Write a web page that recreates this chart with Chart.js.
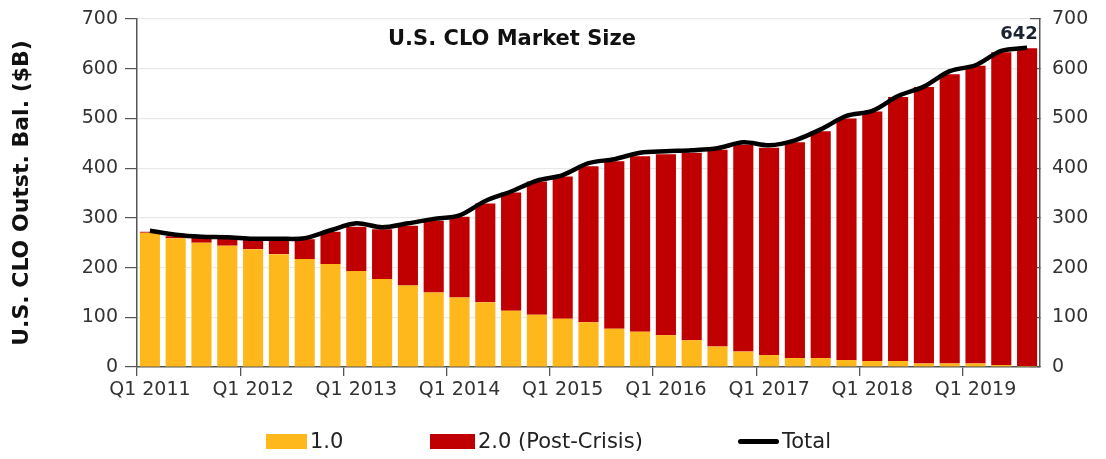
<!DOCTYPE html>
<html>
<head>
<meta charset="utf-8">
<script src="https://cdn.jsdelivr.net/npm/chart.js@4.4.1/dist/chart.umd.min.js"></script>
<style>
  html, body { margin: 0; padding: 0; background: #ffffff; }
  #wrap { position: relative; width: 1106px; height: 459px; overflow: hidden; }
  #c { position: absolute; left: 0; top: 0; }
  #legend { position: absolute; left: 0; top: 428px; width: 1106px; height: 26px;
            font-family: 'DejaVu Sans', Verdana, sans-serif; font-size: 21px; color: #222; }
  .item { position: absolute; top: 0; height: 26px; display: flex; align-items: center; white-space: nowrap; }
  .sw { display: inline-block; margin-right: 3px; }
</style>
</head>
<body>
<div id="wrap">
  <canvas id="c" width="1106" height="459"></canvas>
  <div id="legend"></div>
</div>
<script>
// ---- data (US$ billions) ----
const categories = [
  'Q1 2011','Q2 2011','Q3 2011','Q4 2011',
  'Q1 2012','Q2 2012','Q3 2012','Q4 2012',
  'Q1 2013','Q2 2013','Q3 2013','Q4 2013',
  'Q1 2014','Q2 2014','Q3 2014','Q4 2014',
  'Q1 2015','Q2 2015','Q3 2015','Q4 2015',
  'Q1 2016','Q2 2016','Q3 2016','Q4 2016',
  'Q1 2017','Q2 2017','Q3 2017','Q4 2017',
  'Q1 2018','Q2 2018','Q3 2018','Q4 2018',
  'Q1 2019','Q2 2019','Q3 2019'
];
const xTickLabels = ['Q1 2011','Q1 2012','Q1 2013','Q1 2014','Q1 2015','Q1 2016','Q1 2017','Q1 2018','Q1 2019'];
const yTicks = [0, 100, 200, 300, 400, 500, 600, 700];

const clo10 = [270,259,250,244,237,227,217,207,193,177,164,150,140,130,113,105,97,90,77,71,64,54,41,31,24,18,18,14,12,12,7,7,7,4,2];
const clo20 = [2,4,10,15,19,29,40,65,89,100,120,144,162,199,238,268,286,314,337,353,364,377,396,416,417,434,456,486,502,531,556,582,599,629,639];
const total = [274,266,262,261,258,258,259,275,289,281,289,298,305,334,353,375,386,410,418,431,434,436,440,452,446,456,478,505,515,545,564,595,607,636,642];

const seriesNames = ['1.0', '2.0 (Post-Crisis)', 'Total'];
const chartTitle = 'U.S. CLO Market Size';
const yAxisTitle = 'U.S. CLO Outst. Bal. ($B)';
const lastLabel = '642';

// ---- styles ----
const YELLOW = '#FFB81C';
const RED = '#C00000';
const AXIS = '#555555';
const TXT = '#333333';
const FONT = "'DejaVu Sans', Verdana, sans-serif";

const overlay = {
  id: 'overlay',
  afterDatasetsDraw(chart) {
    const { ctx, chartArea } = chart;
    ctx.save();
    ctx.font = 'bold 21px ' + FONT;
    ctx.fillStyle = '#111111';
    ctx.textAlign = 'center';
    ctx.textBaseline = 'middle';
    ctx.fillText(chartTitle, chartArea.left + 375, chartArea.top + 21);
    const meta = chart.getDatasetMeta(0);
    const pt = meta.data[meta.data.length - 1];
    ctx.font = 'bold 18px ' + FONT;
    ctx.fillStyle = '#1a2330';
    ctx.fillText(lastLabel, pt.x - 8, pt.y - 14);
    ctx.restore();
  }
};

function fixVPad(s, w) {
  s.width = w;
  s.paddingTop = 0;
  s.paddingBottom = 0;
}

new Chart(document.getElementById('c'), {
  type: 'bar',
  data: {
    labels: categories,
    datasets: [
      { type: 'line', label: seriesNames[2], data: total, borderColor: '#000000', borderWidth: 4.5,
        pointRadius: 0, tension: 0.3, fill: false, stack: 'total', order: 0, yAxisID: 'y' },
      { label: seriesNames[0], data: clo10, backgroundColor: YELLOW, stack: 'clo', order: 1,
        barPercentage: 0.78, categoryPercentage: 1.0, yAxisID: 'y' },
      { label: seriesNames[1], data: clo20, backgroundColor: RED, stack: 'clo', order: 1,
        barPercentage: 0.78, categoryPercentage: 1.0, yAxisID: 'y' }
    ]
  },
  options: {
    responsive: false,
    animation: false,
    layout: { padding: { top: 19, left: 0, right: 0, bottom: 0 } },
    plugins: { legend: { display: false }, tooltip: { enabled: false }, title: { display: false } },
    scales: {
      x: {
        stacked: true,
        offset: true,
        grid: {
          offset: true, drawOnChartArea: false, drawTicks: true, tickLength: 9, lineWidth: 1.3,
          tickColor: (c) => (c.index % 4 === 0 ? AXIS : 'rgba(0,0,0,0)')
        },
        border: { color: AXIS, width: 1.5 },
        ticks: {
          autoSkip: false, maxRotation: 0, minRotation: 0, padding: 3,
          font: { family: FONT, size: 19 }, color: TXT,
          callback: function (v) {
            const l = this.getLabelForValue(v);
            return xTickLabels.includes(l) ? l : '';
          }
        },
        afterFit(s) { s.height = 92; }
      },
      y: {
        position: 'left',
        stacked: true,
        min: 0, max: 700,
        afterBuildTicks(s) { s.ticks = yTicks.map(v => ({ value: v })); },
        grid: {
          color: (c) => (c.tick && c.tick.value === 0 ? 'rgba(0,0,0,0)' : '#e9e9e9'),
          tickColor: AXIS, tickLength: 12, lineWidth: 1.2
        },
        border: { color: AXIS, width: 1.5 },
        ticks: { padding: 7, font: { family: FONT, size: 19 }, color: TXT },
        title: {
          display: true, text: yAxisTitle, color: '#111111',
          font: { family: FONT, size: 22, weight: 'bold' },
          padding: { top: 9, bottom: 0 }
        },
        afterFit(s) { fixVPad(s, 137); }
      },
      y2: {
        position: 'right',
        min: 0, max: 700,
        afterBuildTicks(s) { s.ticks = yTicks.map(v => ({ value: v })); },
        grid: { drawOnChartArea: false, tickColor: AXIS, tickLength: -10, lineWidth: 1.2 },
        border: { color: AXIS, width: 1.5 },
        ticks: { padding: 22, font: { family: FONT, size: 19 }, color: TXT },
        afterFit(s) { fixVPad(s, 66); }
      }
    }
  },
  plugins: [overlay]
});

// ---- legend (HTML) ----
const legendItems = [
  { name: seriesNames[0], kind: 'box', color: YELLOW, left: 266, w: 41 },
  { name: seriesNames[1], kind: 'box', color: RED, left: 430, w: 45 },
  { name: seriesNames[2], kind: 'line', color: '#000000', left: 738, w: 41 }
];
const lg = document.getElementById('legend');
legendItems.forEach(it => {
  const d = document.createElement('div');
  d.className = 'item';
  d.style.left = it.left + 'px';
  const s = document.createElement('span');
  s.className = 'sw';
  s.style.width = it.w + 'px';
  s.style.height = it.kind === 'box' ? '15px' : '5px';
  s.style.background = it.color;
  if (it.kind === 'line') s.style.borderRadius = '3px';
  d.appendChild(s);
  const t = document.createElement('span');
  t.textContent = it.name;
  d.appendChild(t);
  lg.appendChild(d);
});
</script>
</body>
</html>
